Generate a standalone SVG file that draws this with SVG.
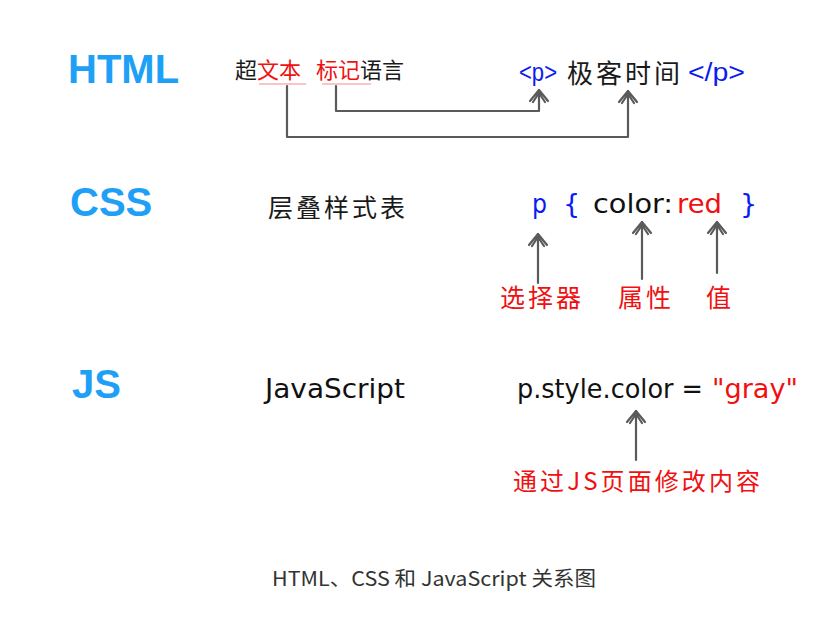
<svg xmlns="http://www.w3.org/2000/svg" width="833" height="622" viewBox="0 0 833 622">
<style>
.lbl{font-family:"Liberation Sans","DejaVu Sans",sans-serif;font-weight:bold;font-size:40px;fill:#1ea0f7}
.cn{font-family:"Noto Sans CJK SC",sans-serif;fill:#1a1a1a}
.red{fill:#f01010}
.code{font-family:"DejaVu Sans","Liberation Sans",sans-serif;font-size:27px}
.tag{font-family:"Liberation Sans","DejaVu Sans",sans-serif;font-size:26px}
.blue{fill:#0a1cf0}
.blk{fill:#111}
.conn{fill:none;stroke:#5a5a5a;stroke-width:2.2;stroke-linejoin:round;stroke-linecap:round}
.ul{stroke:#f7b3b3;stroke-width:1.5}
.cap{font-family:"Noto Sans CJK SC","Noto Sans",sans-serif;font-size:20px;fill:#333}
</style>
<defs>
<marker id="ah" viewBox="-15 -12 18 24" refX="0" refY="0" markerWidth="18" markerHeight="24" markerUnits="userSpaceOnUse" orient="auto">
<path d="M-11,-9 L0,0 L-11,9 M-12,-6 L-3,0 L-12,6" fill="none" stroke="#5a5a5a" stroke-width="2.2" stroke-linecap="round" stroke-linejoin="round"/>
</marker>
</defs>
<rect width="833" height="622" fill="#fff"/>

<g id="html-row">
<text class="lbl" x="68" y="83">HTML</text>
<text class="cn" x="235" y="78" font-size="22">超<tspan class="red">文本</tspan><tspan class="red" x="316">标记</tspan>语言</text>
<line class="ul" x1="259" y1="84" x2="306" y2="84"/>
<line class="ul" x1="322" y1="84" x2="371" y2="84"/>
<text class="tag blue" x="519" y="81" font-size="23" textLength="38" lengthAdjust="spacingAndGlyphs">&lt;p&gt;</text>
<text class="cn" x="567" y="83" font-size="26" letter-spacing="3">极客时间</text>
<text class="tag blue" x="688" y="81" textLength="57" lengthAdjust="spacingAndGlyphs">&lt;/p&gt;</text>
</g>

<g id="css-row">
<text class="lbl" x="70" y="216">CSS</text>
<text class="cn" x="268" y="217" font-size="25" letter-spacing="3">层叠样式表</text>
<text class="code blue" x="532" y="213" textLength="15" lengthAdjust="spacingAndGlyphs">p</text>
<text class="code blue" x="563" y="213">{</text>
<text class="code blk" x="593" y="213" textLength="80" lengthAdjust="spacingAndGlyphs">color:</text>
<text class="code red" x="677" y="213" textLength="45" lengthAdjust="spacingAndGlyphs">red</text>
<text class="code blue" x="740" y="213">}</text>
<text class="cn red" x="500" y="307" font-size="25" letter-spacing="3">选择器</text>
<text class="cn red" x="618" y="307" font-size="25" letter-spacing="3">属性</text>
<text class="cn red" x="706" y="307" font-size="25">值</text>
</g>

<g id="js-row">
<text class="lbl" x="72" y="398">JS</text>
<text class="code blk" x="265" y="398" font-size="26" textLength="140" lengthAdjust="spacingAndGlyphs">JavaScript</text>
<text class="code blk" x="517" y="398" textLength="186" lengthAdjust="spacingAndGlyphs">p.style.color =</text>
<text class="code red" x="712" y="398" textLength="86" lengthAdjust="spacingAndGlyphs">"gray"</text>
<text class="cn red" x="513" y="490" font-size="24" textLength="247" lengthAdjust="spacing">通过JS页面修改内容</text>
</g>

<g id="connectors">
<path class="conn" d="M287,86 L287,137 L628,137 L628,91" marker-end="url(#ah)"/>
<path class="conn" d="M336,86 L336,111 L539,111 L539,90" marker-end="url(#ah)"/>
<path class="conn" d="M538,283 L538,234" marker-end="url(#ah)"/>
<path class="conn" d="M642,279 L642,222" marker-end="url(#ah)"/>
<path class="conn" d="M717,273 L717,222" marker-end="url(#ah)"/>
<path class="conn" d="M636,460 L636,411" marker-end="url(#ah)"/>
</g>

<g id="caption">
<text class="cap" x="272" y="586" textLength="324" lengthAdjust="spacingAndGlyphs">HTML、CSS 和 JavaScript 关系图</text>
</g>
</svg>
